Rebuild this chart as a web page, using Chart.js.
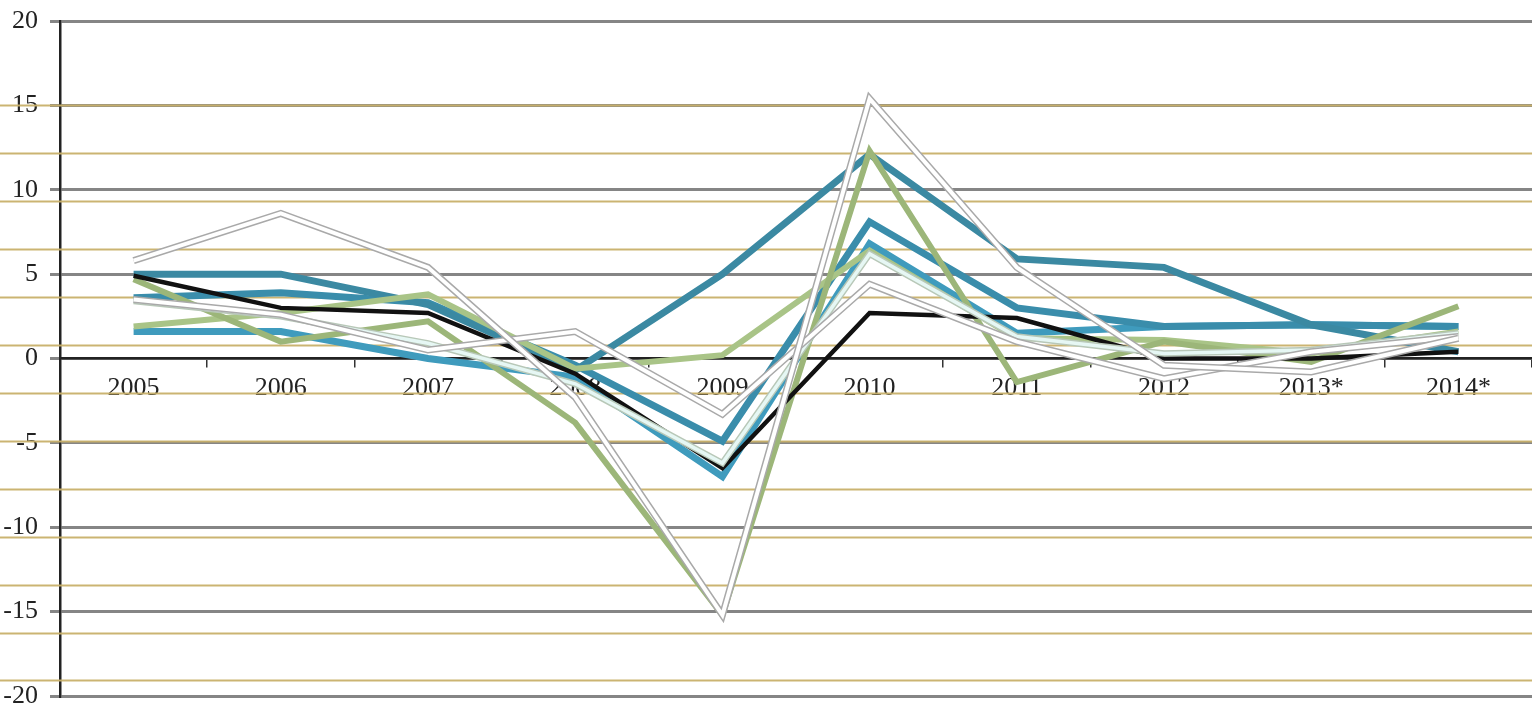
<!DOCTYPE html>
<html lang="en">
<head>
    <meta charset="UTF-8">
    <title>Growth rates 2005-2014</title>
    <script src="https://cdn.jsdelivr.net/npm/chart.js"></script>
    <style>
        html, body {
            margin: 0;
            padding: 0;
            background: #fff;
        }
        #chart-container {
            width: 1532px;
            height: 709px;
        }
    </style>
</head>
<body>
    <div id="chart-container">
        <canvas id="growthChart" width="1532" height="709"></canvas>
    </div>

    <script>
        // categories and values
        const years = ["2005", "2006", "2007", "2008", "2009", "2010", "2011", "2012", "2013*", "2014*"];
        const minorLines = [15, 12.16, 9.32, 6.48, 3.64, 0.8, -2.04, -4.88, -7.72, -10.56, -13.4, -16.24, -19.08];

        const blackLine = [4.9, 3.0, 2.7, -0.9, -6.5, 2.7, 2.4, 0.0, 0.0, 0.4];
        const tealA = [5.0, 5.0, 3.2, -0.7, 5.0, 12.1, 5.9, 5.4, 2.0, 0.4];
        const tealB = [3.6, 3.9, 3.3, -0.4, -4.9, 8.1, 3.0, 1.9, 2.0, 1.9];
        const tealC = [1.6, 1.6, 0.0, -1.1, -7.0, 6.8, 1.5, 1.9, 2.0, 1.9];
        const greenA = [4.7, 1.0, 2.2, -3.8, -15.2, 12.3, -1.4, 1.0, -0.2, 3.1];
        const greenB = [1.9, 2.7, 3.8, -0.6, 0.2, 6.4, 1.2, 1.1, 0.3, 1.6];
        const whiteA = [5.8, 8.6, 5.4, -2.3, -15.2, 15.4, 5.4, -0.4, -0.8, 1.2];
        const whiteB = [3.5, 2.6, 0.5, 1.6, -3.3, 4.4, 1.0, -1.2, 0.4, 1.3];
        const paleCyan = [3.4, 2.5, 0.9, -1.5, -6.2, 6.2, 1.3, 0.3, 0.5, 1.5];

        function line(label, data, color, width, order) {
            return {
                label: label,
                data: data,
                borderColor: color,
                borderWidth: width,
                order: order,
                pointRadius: 0,
                tension: 0,
                fill: false,
                borderJoinStyle: "miter"
            };
        }

        // thin olive lines that run across the whole page
        const minorGrid = {
            id: "minorGrid",
            beforeDatasetsDraw(chart) {
                const ctx = chart.ctx;
                const y = chart.scales.y;
                ctx.save();
                ctx.strokeStyle = "rgba(200,176,106,0.95)";
                ctx.lineWidth = 1.8;
                minorLines.forEach(v => {
                    const py = Math.round(y.getPixelForValue(v)) + 0.5;
                    ctx.beginPath();
                    ctx.moveTo(0, py);
                    ctx.lineTo(chart.width, py);
                    ctx.stroke();
                });
                ctx.restore();
            }
        };

        const ctx = document.getElementById("growthChart").getContext("2d");
        new Chart(ctx, {
            type: "line",
            data: {
                labels: years,
                datasets: [
                    line("white A", whiteA, "#ffffff", 4, 1),
                    line("white A outline", whiteA, "#a9a9a9", 7, 2),
                    line("white B", whiteB, "#ffffff", 4, 3),
                    line("white B outline", whiteB, "#a9a9a9", 7, 4),
                    line("pale", paleCyan, "#e6f7f4", 3.5, 5),
                    line("pale outline", paleCyan, "#b8c8b8", 6.5, 6),
                    line("black", blackLine, "#111111", 4.5, 7),
                    line("green A", greenA, "#9cb679", 6, 8),
                    line("green B", greenB, "#a9c487", 6, 9),
                    line("teal A", tealA, "#3b89a2", 7, 10),
                    line("teal B", tealB, "#3a8dab", 7, 11),
                    line("teal C", tealC, "#3f9bbd", 7, 12)
                ]
            },
            plugins: [minorGrid],
            options: {
                responsive: false,
                animation: false,
                layout: {
                    padding: { top: 21, right: 0, bottom: 13, left: 0 }
                },
                plugins: {
                    legend: { display: false },
                    tooltip: { enabled: false }
                },
                scales: {
                    x: {
                        position: { y: 0 },
                        offset: true,
                        grid: {
                            offset: true,
                            drawOnChartArea: false,
                            tickLength: 8,
                            color: "#333",
                            lineWidth: 1.5
                        },
                        border: { color: "#222", width: 2.5 },
                        ticks: {
                            color: "#222",
                            padding: 6,
                            maxRotation: 0,
                            autoSkip: false,
                            font: { family: "'Liberation Serif', serif", size: 26 }
                        }
                    },
                    y: {
                        min: -20,
                        max: 20,
                        afterFit(scale) {
                            scale.width = 60;
                            scale.paddingTop = 0;
                            scale.paddingBottom = 0;
                        },
                        ticks: {
                            stepSize: 5,
                            color: "#222",
                            padding: 12,
                            font: { family: "'Liberation Serif', serif", size: 26 }
                        },
                        grid: {
                            color: "#858585",
                            lineWidth: 3,
                            tickLength: 10
                        },
                        border: { color: "#222", width: 2.5 }
                    }
                }
            }
        });
    </script>
</body>
</html>
